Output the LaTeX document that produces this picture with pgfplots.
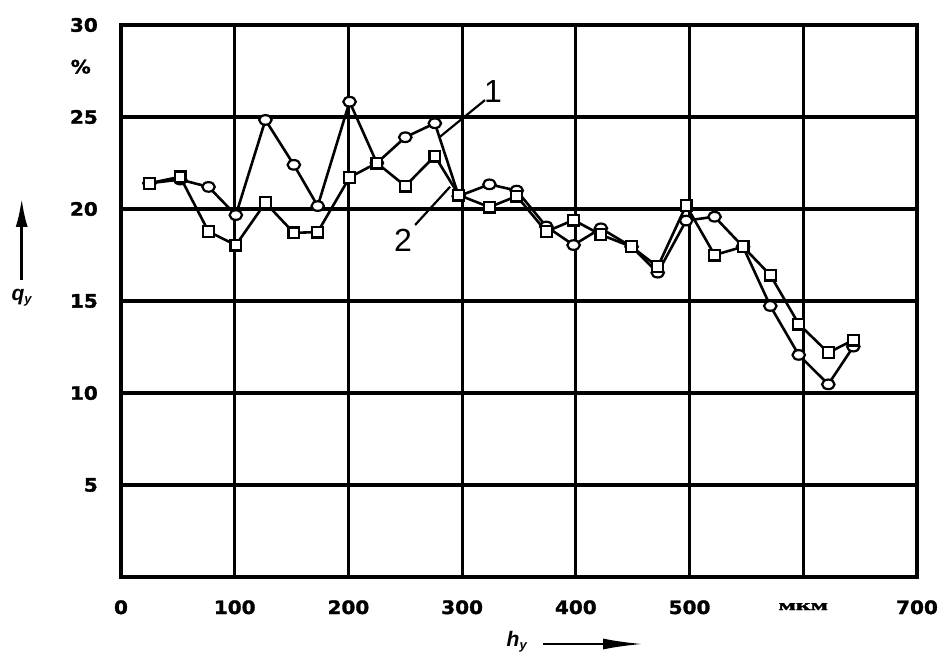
\documentclass[border=0pt]{standalone}
\usepackage{pgfplots}
\pgfplotsset{compat=1.18}
\usepackage{graphicx}
\usepackage{fontspec}
\setmainfont{Liberation Sans}
\newfontfamily\tickfont{DejaVu Sans Bold}[FakeStretch=1.08, FakeBold=1.6]
\newfontfamily\serifcyr{Liberation Serif Bold}[FakeBold=1.5]
\usetikzlibrary{arrows.meta}

\pgfplotstableread{
x y
25 21.4
52 21.6
77 21.2
101 19.67
127 24.84
152 22.4
173 20.16
201 25.83
225 22.5
250 23.9
276 24.66
297 20.7
324 21.34
348 21.0
374 19.05
398 18.04
422 18.95
449 17.95
472 16.54
497 19.37
522 19.58
547 17.95
571 14.73
596 12.07
622 10.47
644 12.52
}\seriesone

\pgfplotstableread{
x y
25 21.4
52 21.75
77 18.77
101 18.04
127 20.34
152 18.7
173 18.75
201 21.72
225 22.5
250 21.25
276 22.88
297 20.76
324 20.1
348 20.7
374 18.77
398 19.4
422 18.6
449 17.95
472 16.86
497 20.2
522 17.5
547 17.95
571 16.41
596 13.75
622 12.19
644 12.88
}\seriestwo

\begin{document}
\begin{tikzpicture}
\path[use as bounding box] (0,0) rectangle (944pt,657pt);
\begin{axis}[
  at={(121pt,80pt)}, anchor=south west,
  scale only axis, width=796pt, height=552pt,
  xmin=0, xmax=700, ymin=0, ymax=30,
  xtick={0,100,...,700}, ytick={5,10,...,30},
  xticklabels={0,100,200,300,400,500,{\raisebox{4pt}{\scalebox{1.7}[1]{\serifcyr\fontsize{15}{15}\selectfont мкм}}},700},
  yticklabels={5,10,15,20,25,30},
  /pgf/number format/assume math mode=true,
  grid=major,
  major grid style={black, line width=3.2pt},
  axis line style={black, line width=3.2pt},
  major tick length=0pt,
  ticklabel style={font=\tickfont\fontsize{18.5}{18.5}\selectfont, inner sep=0pt},
  xticklabel style={anchor=base, yshift=-37pt},
  yticklabel style={anchor=east, xshift=-23pt},
]
\addplot[black, line width=2.6pt, mark=*, mark size=4.8pt,
  mark options={fill=white, draw=black, line width=2.2pt, xscale=1.3}]
  table[x=x, y=y] {\seriesone};
\addplot[black, line width=2.6pt, mark=square*, mark size=5.4pt,
  mark options={fill=white, draw=black, line width=2.2pt}]
  table[x=x, y=y] {\seriestwo};
\draw[black, line width=2.2pt] (axis cs:320.1,25.92) -- (axis cs:280.6,23.93);
\draw[black, line width=2.2pt] (axis cs:258.6,19.13) -- (axis cs:289.4,21.21);
\node[font=\fontsize{32}{32}\selectfont, inner sep=0pt] at (axis cs:327.2,26.36) {1};
\node[font=\fontsize{32}{32}\selectfont, inner sep=0pt] at (axis cs:248,18.32) {2};
\end{axis}
\node[font=\tickfont\fontsize{18.5}{18.5}\selectfont, inner sep=0pt] at (80.8pt,590.3pt) {\%};
\draw[black, line width=3pt, -{Latex[length=29pt,width=12pt]}] (21.7pt,377pt) -- (21.7pt,459pt);
\node[inner sep=0pt] at (21.7pt,359pt) {\fontsize{21}{21}\selectfont\bfseries\itshape q\raisebox{-3pt}{\fontsize{13}{13}\selectfont у}};
\node[inner sep=0pt] at (516.7pt,15pt) {\fontsize{21}{21}\selectfont\bfseries\itshape h\raisebox{-3pt}{\fontsize{13}{13}\selectfont у}};
\draw[black, line width=2.5pt, -{Latex[length=40pt,width=11pt]}] (543pt,13pt) -- (643pt,13pt);
\end{tikzpicture}
\end{document}
